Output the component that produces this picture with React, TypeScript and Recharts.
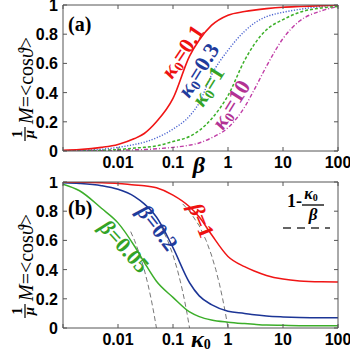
import React from 'react';
import { LineChart, Line, XAxis, YAxis } from 'recharts';

// ---------- Panel (a): <cos θ> versus β for several κ0 ----------
const betaA = [0.001, 0.002, 0.005, 0.01, 0.02, 0.03, 0.05, 0.1, 0.2, 0.3, 0.5, 1, 2, 3, 5, 10, 20, 50, 100];
const kappa01 = [0.005, 0.01, 0.025, 0.045, 0.085, 0.12, 0.2, 0.36, 0.65, 0.76, 0.86, 0.93, 0.955, 0.965, 0.975, 0.985, 0.99, 0.995, 1.0];
const kappa03 = [0.002, 0.005, 0.012, 0.025, 0.045, 0.06, 0.09, 0.15, 0.24, 0.33, 0.52, 0.69, 0.82, 0.875, 0.92, 0.95, 0.97, 0.99, 1.0];
const kappa1 = [0.001, 0.002, 0.005, 0.01, 0.02, 0.025, 0.035, 0.065, 0.1, 0.14, 0.22, 0.38, 0.62, 0.73, 0.83, 0.9, 0.95, 0.98, 0.99];
const kappa10 = [0.0, 0.001, 0.002, 0.005, 0.008, 0.01, 0.015, 0.025, 0.04, 0.055, 0.09, 0.16, 0.3, 0.42, 0.58, 0.77, 0.89, 0.96, 0.99];

// ---------- Panel (b): <cos θ> versus κ0 for several β ----------
const kappaB = [0.001, 0.002, 0.005, 0.01, 0.02, 0.03, 0.05, 0.1, 0.2, 0.3, 0.5, 1, 2, 3, 5, 10, 20, 50, 100];
const beta1 = [0.999, 0.998, 0.995, 0.99, 0.98, 0.975, 0.96, 0.91, 0.83, 0.76, 0.64, 0.49, 0.42, 0.39, 0.36, 0.335, 0.322, 0.316, 0.315];
const beta02 = [0.995, 0.99, 0.975, 0.95, 0.9, 0.85, 0.76, 0.55, 0.31, 0.22, 0.16, 0.115, 0.1, 0.09, 0.082, 0.076, 0.072, 0.07, 0.07];
const beta005 = [0.985, 0.94, 0.82, 0.72, 0.56, 0.45, 0.32, 0.21, 0.11, 0.078, 0.055, 0.04, 0.03, 0.025, 0.02, 0.018, 0.016, 0.015, 0.015];

// asymptote 1 - κ0/β (gray dashed)
const asymKappa1 = [0.15, 0.2, 0.3, 0.4, 0.5, 0.6, 0.7, 0.8, 0.9, 1.0];
const asymVal1 = [0.85, 0.8, 0.7, 0.6, 0.5, 0.4, 0.3, 0.2, 0.1, 0.0];
const asymKappa02 = [0.06, 0.08, 0.1, 0.12, 0.14, 0.16, 0.18, 0.2];
const asymVal02 = [0.7, 0.6, 0.5, 0.4, 0.3, 0.2, 0.1, 0.0];
const asymKappa005 = [0.017, 0.02, 0.025, 0.03, 0.035, 0.04, 0.045, 0.05];
const asymVal005 = [0.66, 0.6, 0.5, 0.4, 0.3, 0.2, 0.1, 0.0];

const xTicks = [0.001, 0.01, 0.1, 1, 10, 100];
const xTickLabels = ['', '0.01', '0.1', '1', '10', '100'];
const yTicks = [0, 0.2, 0.4, 0.6, 0.8, 1];
const yTickLabels = ['0', '0.2', '0.4', '0.6', '0.8', '1'];

const zip = (xs: number[], ys: number[]) => xs.map((x, i) => ({ x, y: ys[i] }));

const AX = '#555';
const TICKFONT = "'Liberation Sans', Arial, sans-serif";
const SERIF = "'Liberation Serif', 'Times New Roman', serif";

const labelOf = (ticks: number[], labels: string[], v: number) => {
  const i = ticks.findIndex((t) => Math.abs(t - v) < 1e-9);
  return i >= 0 ? labels[i] : '';
};

const BottomTick = (p: any) => (
  <g>
    <line x1={p.x} x2={p.x} y1={p.y} y2={p.y - 4} stroke={AX} />
    <text x={p.x} y={p.y + 17} textAnchor="middle" fontFamily={TICKFONT} fontWeight="bold" fontSize={16} fill="#000">
      {labelOf(xTicks, xTickLabels, p.payload.value)}
    </text>
  </g>
);
const TopTick = (p: any) => <line x1={p.x} x2={p.x} y1={p.y} y2={p.y + 4} stroke={AX} />;
const LeftTick = (p: any) => (
  <g>
    <line x1={p.x} x2={p.x + 4} y1={p.y} y2={p.y} stroke={AX} />
    <text x={p.x - 5} y={p.y + 6} textAnchor="end" fontFamily={TICKFONT} fontWeight="bold" fontSize={16} fill="#000">
      {labelOf(yTicks, yTickLabels, p.payload.value)}
    </text>
  </g>
);
const RightTick = (p: any) => <line x1={p.x} x2={p.x - 4} y1={p.y} y2={p.y} stroke={AX} />;

const W = 350;
const H = 177;
const MARGIN = { top: 4, right: 11, bottom: 25, left: 62 };

function Frame() {
  return [
    <XAxis key="xb" xAxisId="b" dataKey="x" type="number" scale="log" domain={[0.001, 100]} allowDataOverflow ticks={xTicks} interval={0} tickSize={0} tickMargin={0} height={1} tick={BottomTick} axisLine={{ stroke: AX }} tickLine={false} />,
    <XAxis key="xt" xAxisId="t" orientation="top" dataKey="x" type="number" scale="log" domain={[0.001, 100]} allowDataOverflow ticks={xTicks} interval={0} tickSize={0} tickMargin={0} height={1} tick={TopTick} axisLine={{ stroke: AX }} tickLine={false} />,
    <YAxis key="yl" yAxisId="l" type="number" domain={[0, 1]} allowDataOverflow ticks={yTicks} interval={0} tickSize={0} tickMargin={0} width={1} tick={LeftTick} axisLine={{ stroke: AX }} tickLine={false} />,
    <YAxis key="yr" yAxisId="r" orientation="right" type="number" domain={[0, 1]} allowDataOverflow ticks={yTicks} interval={0} tickSize={0} tickMargin={0} width={1} tick={RightTick} axisLine={{ stroke: AX }} tickLine={false} />,
  ];
}

function YLabel({ dy }: { dy: number }) {
  return (
    <g transform={`translate(0, ${dy}) rotate(-90)`} fill="#000" fontFamily={SERIF}>
      <text x={-134} y={22} textAnchor="middle" fontSize={14} fontWeight="bold">1</text>
      <line x1={-141} x2={-127} y1={25} y2={25} stroke="#000" strokeWidth={1.2} />
      <text x={-134} y={34} textAnchor="middle" fontSize={15} fontStyle="italic" fontWeight="bold">μ</text>
      <text x={-124} y={33} fontSize={20}>
        <tspan fontStyle="italic">M</tspan>
        <tspan>=&lt;cos</tspan>
        <tspan fontStyle="italic">ϑ</tspan>
        <tspan>&gt;</tspan>
      </text>
    </g>
  );
}

function KLabel({ x, y, angle, value, color }: { x: number; y: number; angle: number; value: string; color: string }) {
  return (
    <text transform={`translate(${x},${y}) rotate(${angle})`} fill={color} fontFamily={SERIF} fontWeight="bold" fontSize={22}>
      <tspan fontStyle="italic">κ</tspan>
      <tspan fontSize={14} dy={3}>0</tspan>
      <tspan dy={-3}>{'=' + value}</tspan>
    </text>
  );
}

function BLabel({ x, y, angle, value, color }: { x: number; y: number; angle: number; value: string; color: string }) {
  return (
    <text transform={`translate(${x},${y}) rotate(${angle})`} fill={color} fontFamily={SERIF} fontWeight="bold" fontSize={22}>
      <tspan fontStyle="italic">β</tspan>
      <tspan>{'=' + value}</tspan>
    </text>
  );
}

export default function App() {
  return (
    <div style={{ position: 'absolute', left: 0, top: 0, width: 350, height: 354, background: '#fff' }}>
      <div style={{ position: 'absolute', left: 0, top: 0 }}>
        <LineChart width={W} height={H} margin={MARGIN}>
          {Frame()}
          <Line xAxisId="b" yAxisId="l" data={zip(betaA, kappa10)} dataKey="y" type="monotone" stroke="#c03ca6" strokeWidth={1.4} strokeDasharray="4 2 1 2" dot={false} isAnimationActive={false} />
          <Line xAxisId="b" yAxisId="l" data={zip(betaA, kappa1)} dataKey="y" type="monotone" stroke="#3cb029" strokeWidth={1.5} strokeDasharray="3 2" dot={false} isAnimationActive={false} />
          <Line xAxisId="b" yAxisId="l" data={zip(betaA, kappa03)} dataKey="y" type="monotone" stroke="#4a63d0" strokeWidth={1.4} strokeDasharray="1.2 1.6" dot={false} isAnimationActive={false} />
          <Line xAxisId="b" yAxisId="l" data={zip(betaA, kappa01)} dataKey="y" type="monotone" stroke="#f01515" strokeWidth={1.6} dot={false} isAnimationActive={false} />
        </LineChart>
      </div>
      <div style={{ position: 'absolute', left: 0, top: 177 }}>
        <LineChart width={W} height={H} margin={MARGIN}>
          {Frame()}
          <Line xAxisId="b" yAxisId="l" data={zip(asymKappa1, asymVal1)} dataKey="y" type="linear" stroke="#777" strokeWidth={1} strokeDasharray="5 3" dot={false} isAnimationActive={false} />
          <Line xAxisId="b" yAxisId="l" data={zip(asymKappa02, asymVal02)} dataKey="y" type="linear" stroke="#777" strokeWidth={1} strokeDasharray="5 3" dot={false} isAnimationActive={false} />
          <Line xAxisId="b" yAxisId="l" data={zip(asymKappa005, asymVal005)} dataKey="y" type="linear" stroke="#777" strokeWidth={1} strokeDasharray="5 3" dot={false} isAnimationActive={false} />
          <Line xAxisId="b" yAxisId="l" data={zip(kappaB, beta005)} dataKey="y" type="monotone" stroke="#3cae2a" strokeWidth={1.5} dot={false} isAnimationActive={false} />
          <Line xAxisId="b" yAxisId="l" data={zip(kappaB, beta02)} dataKey="y" type="monotone" stroke="#1c3596" strokeWidth={1.5} dot={false} isAnimationActive={false} />
          <Line xAxisId="b" yAxisId="l" data={zip(kappaB, beta1)} dataKey="y" type="monotone" stroke="#f01515" strokeWidth={1.5} dot={false} isAnimationActive={false} />
        </LineChart>
      </div>
      <svg width={350} height={354} style={{ position: 'absolute', left: 0, top: 0, pointerEvents: 'none' }}>
        <YLabel dy={0} />
        <YLabel dy={177} />
        <text x={68} y={31} fontFamily={SERIF} fontWeight="bold" fontSize={20} fill="#000">(a)</text>
        <text x={68} y={215} fontFamily={SERIF} fontWeight="bold" fontSize={20} fill="#000">(b)</text>
        <text x={199} y={173} textAnchor="middle" fontFamily={SERIF} fontWeight="bold" fontStyle="italic" fontSize={24} fill="#000">β</text>
        <text x={191} y={347} fontFamily={SERIF} fontWeight="bold" fill="#000">
          <tspan fontStyle="italic" fontSize={24}>κ</tspan>
          <tspan fontSize={14} dy={2}>0</tspan>
        </text>
        <KLabel x={172} y={80} angle={-56} value="0.1" color="#ee1111" />
        <KLabel x={189} y={99} angle={-58} value="0.3" color="#1f3c9c" />
        <KLabel x={203} y={108} angle={-58} value="1" color="#33a326" />
        <KLabel x={223} y={131} angle={-58} value="10" color="#b23294" />
        <BLabel x={188} y={207} angle={68} value="1" color="#ee1111" />
        <BLabel x={136} y={212} angle={52} value="0.2" color="#1f3c9c" />
        <BLabel x={98} y={228} angle={48} value="0.05" color="#33a326" />
        <text x={287} y={207} fontFamily={SERIF} fontWeight="bold" fontSize={18} fill="#000">1-</text>
        <text x={311} y={199} textAnchor="middle" fontFamily={SERIF} fontWeight="bold" fill="#000">
          <tspan fontStyle="italic" fontSize={16}>κ</tspan>
          <tspan fontSize={10} dy={2}>0</tspan>
        </text>
        <line x1={302} x2={324} y1={205} y2={205} stroke="#000" strokeWidth={1.3} />
        <text x={313} y={220} textAnchor="middle" fontFamily={SERIF} fontWeight="bold" fontStyle="italic" fontSize={17} fill="#000">β</text>
        <line x1={283} x2={330} y1={228} y2={228} stroke="#333" strokeWidth={1.4} strokeDasharray="8 6" />
      </svg>
    </div>
  );
}
